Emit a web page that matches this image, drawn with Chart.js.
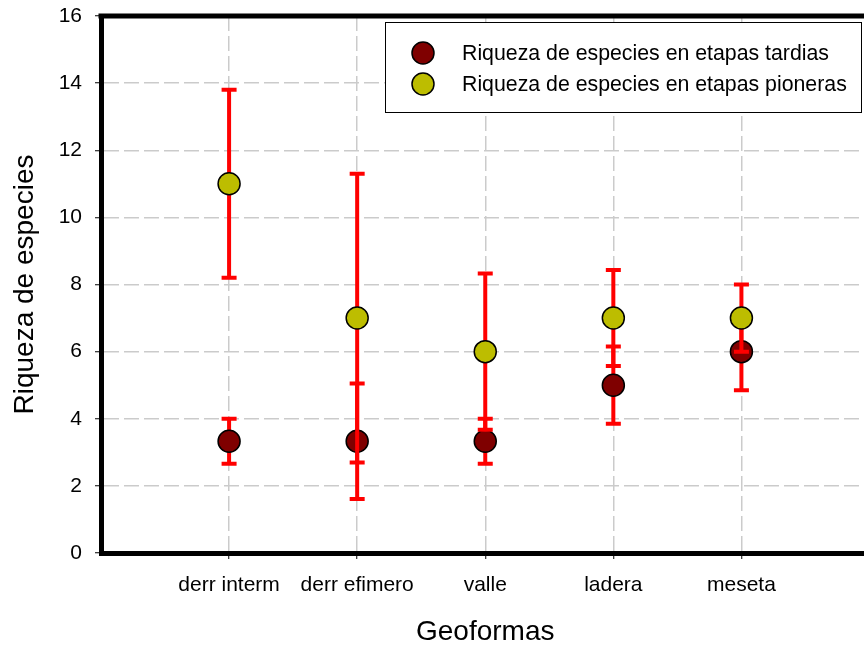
<!DOCTYPE html>
<html>
<head>
<meta charset="utf-8">
<script src="https://cdn.jsdelivr.net/npm/chart.js@4/dist/chart.umd.min.js"></script>
<style>
  html, body { margin: 0; padding: 0; background: #ffffff; overflow: hidden; width: 864px; height: 650px; }
  #wrap { width: 864px; height: 650px; overflow: hidden; position: relative; }
  canvas { display: block; }
</style>
</head>
<body>
<div id="wrap"><canvas id="chart" width="882" height="650"></canvas></div>
<script>
// Landforms on the x axis
const geoformas = ['derr interm', 'derr efimero', 'valle', 'ladera', 'meseta'];

// Species richness, late stages (mean and error)
const tardias = [3.33, 3.33, 3.33, 5, 6];
const tardiasErr = [0.67, 1.72, 0.67, 1.15, 1.15];

// Species richness, pioneer stages (mean and error)
const pioneras = [11, 7, 6, 7, 7];
const pionerasErr = [2.8, 4.3, 2.33, 1.43, 1.0];

// Y axis ticks
const yMin = 0, yMax = 16, yStep = 2;

const seriesLabels = [
  'Riqueza de especies en etapas tardias',
  'Riqueza de especies en etapas pioneras'
];

const FONT = '"Liberation Sans", Arial, Helvetica, sans-serif';
const GRID = '#cbcbcb';

const toPoints = (vals) => vals.map((v, i) => ({ x: i + 1, y: v }));

// Vertical error bars with caps, drawn just before each dataset's markers
const errorBars = {
  id: 'errorBars',
  beforeDatasetDraw(chart, args) {
    const ds = chart.data.datasets[args.index];
    const errs = ds.errors;
    if (!errs) return;
    const { ctx, scales: { x, y } } = chart;
    ctx.save();
    ctx.strokeStyle = '#ff0000';
    ctx.lineWidth = 4;
    ctx.lineCap = 'butt';
    ds.data.forEach((p, i) => {
      const px = x.getPixelForValue(p.x);
      const yTop = y.getPixelForValue(p.y + errs[i]);
      const yBot = y.getPixelForValue(p.y - errs[i]);
      ctx.beginPath();
      ctx.moveTo(px, yTop);
      ctx.lineTo(px, yBot);
      ctx.moveTo(px - 7.5, yTop);
      ctx.lineTo(px + 7.5, yTop);
      ctx.moveTo(px - 7.5, yBot);
      ctx.lineTo(px + 7.5, yBot);
      ctx.stroke();
    });
    ctx.restore();
  }
};

// Heavy top frame line plus the boxed legend inside the plot
const frameAndLegend = {
  id: 'frameAndLegend',
  afterDraw(chart) {
    const { ctx, chartArea } = chart;
    ctx.save();
    ctx.strokeStyle = '#000000';
    ctx.lineWidth = 5;
    ctx.beginPath();
    ctx.moveTo(chartArea.left - 2.5, chartArea.top);
    ctx.lineTo(chart.width, chartArea.top);
    ctx.stroke();

    // legend box
    const bx = 385.5, by = 22.5, bw = 476, bh = 90;
    ctx.fillStyle = '#ffffff';
    ctx.fillRect(bx, by, bw, bh);
    ctx.lineWidth = 1;
    ctx.strokeStyle = '#000000';
    ctx.strokeRect(bx, by, bw, bh);

    ctx.font = '21.3px ' + FONT;
    ctx.textBaseline = 'middle';
    ctx.textAlign = 'left';
    chart.data.datasets.forEach((ds, i) => {
      const cy = 53 + i * 31;
      ctx.beginPath();
      ctx.arc(423, cy, 11, 0, Math.PI * 2);
      ctx.fillStyle = ds.backgroundColor;
      ctx.fill();
      ctx.lineWidth = 1.5;
      ctx.strokeStyle = '#000000';
      ctx.stroke();
      ctx.fillStyle = '#000000';
      ctx.fillText(ds.label, 462, cy + 1);
    });
    ctx.restore();
  }
};

new Chart(document.getElementById('chart'), {
  type: 'scatter',
  data: {
    datasets: [
      {
        label: seriesLabels[0],
        data: toPoints(tardias),
        errors: tardiasErr,
        backgroundColor: '#7f0000',
        borderColor: '#000000',
        borderWidth: 1.5,
        pointRadius: 11,
        pointHoverRadius: 11,
        order: 2
      },
      {
        label: seriesLabels[1],
        data: toPoints(pioneras),
        errors: pionerasErr,
        backgroundColor: '#bdbd00',
        borderColor: '#000000',
        borderWidth: 1.5,
        pointRadius: 11,
        pointHoverRadius: 11,
        order: 1
      }
    ]
  },
  options: {
    responsive: false,
    devicePixelRatio: 1,
    animation: false,
    events: [],
    layout: { padding: { top: 16, right: 2, bottom: 0, left: 0 } },
    plugins: {
      legend: { display: false },
      tooltip: { enabled: false }
    },
    scales: {
      x: {
        type: 'linear',
        min: 0,
        max: geoformas.length + 1,
        afterBuildTicks: (scale) => {
          scale.ticks = geoformas.map((g, i) => ({ value: i + 1 }));
        },
        afterFit: (scale) => {
          scale.height = 97;
          scale.paddingLeft = 0;
          scale.paddingRight = 0;
        },
        ticks: {
          autoSkip: false,
          maxRotation: 0,
          padding: 14,
          color: '#000000',
          font: { family: FONT, size: 21 },
          callback: (v) => geoformas[Math.round(v) - 1] || ''
        },
        grid: {
          color: GRID,
          lineWidth: 1.5,
          tickLength: 6,
          tickColor: '#000000',
          tickWidth: 1
        },
        border: { display: true, color: '#000000', width: 5, dash: [15, 5] },
        title: {
          display: true,
          text: 'Geoformas',
          color: '#000000',
          font: { family: FONT, size: 28 },
          padding: { top: 0, bottom: 1 }
        }
      },
      y: {
        min: yMin,
        max: yMax,
        afterFit: (scale) => {
          scale.width = 101;
          scale.paddingTop = 0;
          scale.paddingBottom = 0;
        },
        ticks: {
          stepSize: yStep,
          padding: 13,
          color: '#000000',
          font: { family: FONT, size: 21 }
        },
        grid: {
          color: (c) => (c.tick && (c.tick.value === yMin || c.tick.value === yMax)) ? 'rgba(0,0,0,0)' : GRID,
          lineWidth: 1.5,
          tickLength: 6,
          tickColor: '#000000',
          tickWidth: 1
        },
        border: { display: true, color: '#000000', width: 5, dash: [15, 5] },
        title: {
          display: true,
          text: 'Riqueza de especies',
          color: '#000000',
          font: { family: FONT, size: 28 },
          padding: { top: 8, bottom: 0 }
        }
      }
    }
  },
  plugins: [errorBars, frameAndLegend]
});
</script>
</body>
</html>
